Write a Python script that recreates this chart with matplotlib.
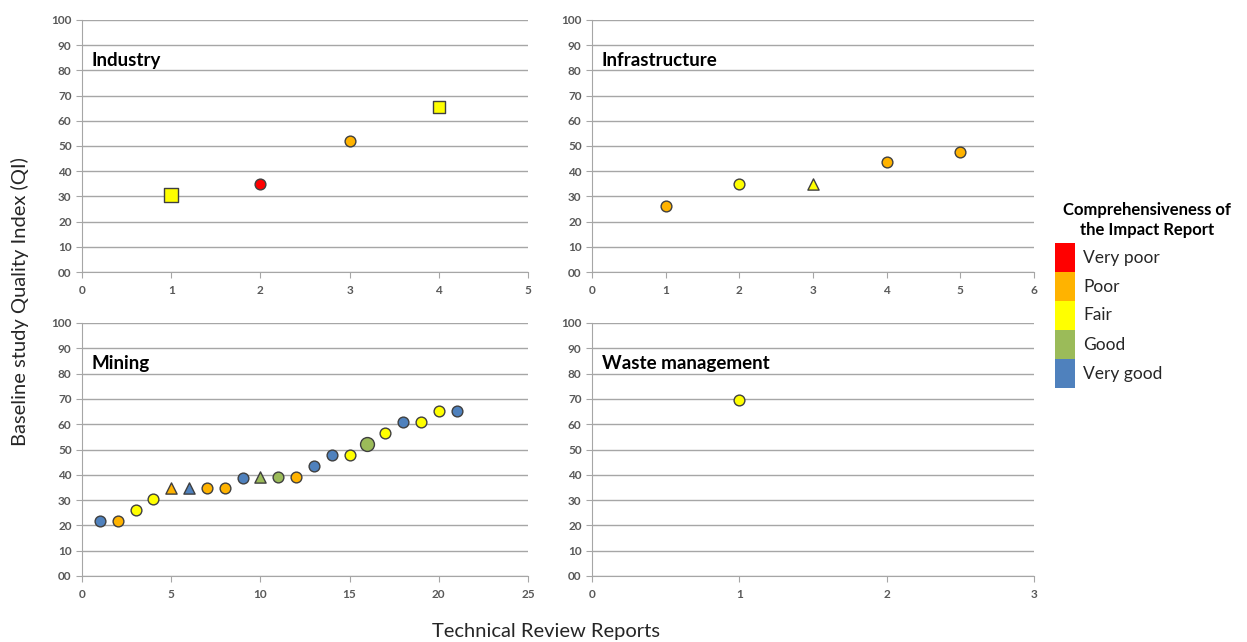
import numpy as np
import matplotlib.pyplot as plt

plt.rcParams['font.family'] = ['Lato', 'DejaVu Sans']

# rating colours (Excel palette)
ratings = ['Very poor', 'Poor', 'Fair', 'Good', 'Very good']
rating_colors = ['#FF0000', '#FFB300', '#FFFF00', '#9BBB59', '#4F81BD']
cmap = dict(zip(ratings, rating_colors))

# Industry
ind_x = [1, 2, 3, 4]
ind_y = [30.4, 34.8, 52.0, 65.3]
ind_r = ['Fair', 'Very poor', 'Poor', 'Fair']
ind_m = ['s', 'o', 'o', 's']

# Infrastructure
inf_x = [1, 2, 3, 4, 5]
inf_y = [26.1, 34.8, 34.8, 43.5, 47.8]
inf_r = ['Poor', 'Fair', 'Fair', 'Poor', 'Poor']
inf_m = ['o', 'o', '^', 'o', 'o']

# Mining
min_x = list(range(1, 22))
min_y = [21.7, 21.7, 26.1, 30.4, 34.8, 34.8, 34.8, 34.8, 38.9, 39.0, 39.0,
         39.0, 43.5, 47.8, 47.8, 52.2, 56.5, 60.9, 60.9, 65.2, 65.2]
min_r = ['Very good', 'Poor', 'Fair', 'Fair', 'Poor', 'Very good', 'Poor', 'Poor',
         'Very good', 'Good', 'Good', 'Poor', 'Very good', 'Very good', 'Fair',
         'Good', 'Fair', 'Very good', 'Fair', 'Fair', 'Very good']
min_m = ['o', 'o', 'o', 'o', '^', '^', 'o', 'o', 'o', '^', 'o',
         'o', 'o', 'o', 'o', 'o', 'o', 'o', 'o', 'o', 'o']

# Waste management
was_x = [1]
was_y = [69.6]
was_r = ['Fair']
was_m = ['o']

panels = [
    ('Industry', ind_x, ind_y, ind_r, ind_m, 5, 1),
    ('Infrastructure', inf_x, inf_y, inf_r, inf_m, 6, 1),
    ('Mining', min_x, min_y, min_r, min_m, 25, 5),
    ('Waste management', was_x, was_y, was_r, was_m, 3, 1),
]

fig = plt.figure(figsize=(12.47, 6.42), dpi=100)
W, H = 1247, 642
boxes = [(82, 20, 528, 272), (592, 20, 1034, 272),
         (82, 323, 528, 576), (592, 323, 1034, 576)]

grid_c = '#A6A6A6'
tick_c = '#595959'

for (name, xs, ys, rs, ms, xmax, xstep), (x0, y0, x1, y1) in zip(panels, boxes):
    ax = fig.add_axes([x0 / W, 1 - y1 / H, (x1 - x0) / W, (y1 - y0) / H])
    sizes = {'o': 60, 's': 70, '^': 65}
    for x, y, r, m in zip(xs, ys, rs, ms):
        s = sizes[m]
        if name == 'Mining' and x == 16:
            s = 100
        if name == 'Industry' and x == 1:
            s = 90
        ax.scatter(x, y, marker=m, s=s, c=cmap[r], edgecolors='#3F3F3F',
                   linewidths=1, zorder=3)
    ax.set_xlim(0, xmax)
    ax.set_ylim(0, 100)
    ax.set_xticks(np.arange(0, xmax + 0.1, xstep))
    ax.set_yticks(np.arange(0, 101, 10))
    ax.set_yticklabels(['%02d' % v for v in range(0, 101, 10)])
    ax.yaxis.grid(True, color=grid_c, linewidth=1)
    ax.set_axisbelow(True)
    for sp in ['top', 'right']:
        ax.spines[sp].set_visible(False)
    for sp in ['left', 'bottom']:
        ax.spines[sp].set_color(grid_c)
    ax.tick_params(axis='both', colors=grid_c, labelcolor=tick_c,
                   labelsize=8.5, length=4, direction='out')
    ax.tick_params(axis='x', pad=5)
    for lab in ax.get_xticklabels() + ax.get_yticklabels():
        lab.set_fontweight('bold')
    ax.text(0.022, 84, name, transform=ax.get_yaxis_transform(),
            fontsize=13.5, fontweight='bold', va='center', ha='left')

fig.text(20 / W, 1 - 302 / H, 'Baseline study Quality Index (QI)', rotation=90,
         fontsize=14.5, va='center', ha='center', color='#262626')
fig.text(546 / W, 1 - 632 / H, 'Technical Review Reports',
         fontsize=14.5, va='center', ha='center', color='#262626')

# legend
fig.text(1147 / W, 1 - 220 / H, 'Comprehensiveness of\nthe Impact Report',
         fontsize=12, fontweight='bold', ha='center', va='center', linespacing=1.3)
lax = fig.add_axes([1055 / W, 1 - 388 / H, 200 / W, 145 / H])
lax.barh(np.arange(5), [1] * 5, height=1, left=0, color=rating_colors)
lax.set_xlim(0, 10)
lax.set_ylim(4.5, -0.5)
for i, lab in enumerate(ratings):
    lax.text(1.4, i, lab, fontsize=12.5, va='center', ha='left', color='#262626')
lax.axis('off')

fig.savefig('out.png', dpi=100)
